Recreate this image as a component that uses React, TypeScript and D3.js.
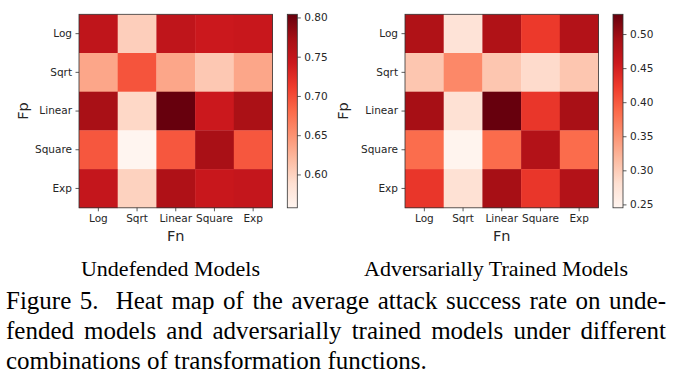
import React, { useEffect, useRef } from "react";
import * as d3 from "d3";

const fnLabels = ["Log", "Sqrt", "Linear", "Square", "Exp"];
const fpLabels = ["Log", "Sqrt", "Linear", "Square", "Exp"];

const undefendedValues = [
  [0.752, 0.603, 0.752, 0.742, 0.745],
  [0.635, 0.695, 0.635, 0.608, 0.635],
  [0.770, 0.595, 0.804, 0.742, 0.768],
  [0.693, 0.5575, 0.693, 0.770, 0.693],
  [0.748, 0.600, 0.765, 0.745, 0.748],
];
const undefendedTicks = [0.6, 0.65, 0.7, 0.75, 0.8];
const undefendedRange = [0.5575, 0.804];

const advValues = [
  [0.483, 0.275, 0.483, 0.425, 0.480],
  [0.305, 0.360, 0.305, 0.285, 0.305],
  [0.492, 0.278, 0.529, 0.428, 0.490],
  [0.384, 0.247, 0.385, 0.480, 0.385],
  [0.428, 0.278, 0.492, 0.428, 0.480],
];
const advTicks = [0.25, 0.3, 0.35, 0.4, 0.45, 0.5];
const advRange = [0.245, 0.529];

const subtitles = ["Undefended Models", "Adversarially Trained Models"];
const captionLines = [
  "Figure 5.  Heat map of the average attack success rate on unde-",
  "fended models and adversarially trained models under different",
  "combinations of transformation functions.",
];

const REDS = ["#fff5f0", "#fee0d2", "#fcbba1", "#fc9272", "#fb6a4a", "#ef3b2c", "#cb181d", "#a50f15", "#67000d"];

export default function App() {
  const ref = useRef<SVGSVGElement>(null);
  useEffect(() => {
    const svg = d3.select(ref.current);
    svg.selectAll("*").remove();
    const font = "DejaVu Sans, sans-serif";
    const textColor = "#262626";

    const panels = [
      { values: undefendedValues, ticks: undefendedTicks, range: undefendedRange, x0: 79, cbx: 287.3, fpX: 22 },
      { values: advValues, ticks: advTicks, range: advRange, x0: 405, cbx: 613, fpX: 342 },
    ];
    const top = 14.3, size = 193.5, cbw = 10;
    const defs = svg.append("defs");

    panels.forEach((p, pi) => {
      const [lo, hi] = p.range;
      const color = d3
        .scaleLinear<string>()
        .domain(REDS.map((_, i) => lo + (i / 8) * (hi - lo)))
        .range(REDS)
        .interpolate(d3.interpolateRgb)
        .clamp(true);
      const x = d3.scaleBand().domain(fnLabels).range([p.x0, p.x0 + size]);
      const y = d3.scaleBand().domain(fpLabels).range([top, top + size]);
      const g = svg.append("g");
      p.values.forEach((row, ri) => {
        row.forEach((v, ci) => {
          g.append("rect")
            .attr("x", x(fnLabels[ci])!)
            .attr("y", y(fpLabels[ri])!)
            .attr("width", x.bandwidth() + 0.3)
            .attr("height", y.bandwidth() + 0.3)
            .attr("fill", color(v));
        });
      });
      g.append("rect")
        .attr("x", p.x0)
        .attr("y", top)
        .attr("width", size)
        .attr("height", size)
        .attr("fill", "none")
        .attr("stroke", "#333")
        .attr("stroke-width", 0.8);

      const xa = svg
        .append("g")
        .attr("transform", `translate(0,${top + size})`)
        .call(d3.axisBottom(x).tickSize(3.5).tickPadding(3.5).tickSizeOuter(0));
      const ya = svg
        .append("g")
        .attr("transform", `translate(${p.x0},0)`)
        .call(d3.axisLeft(y).tickSize(3.5).tickPadding(3.5).tickSizeOuter(0));
      [xa, ya].forEach((a) => {
        a.select(".domain").remove();
        a.selectAll("line").attr("stroke", "#333").attr("stroke-width", 0.8);
        a.selectAll("text").attr("font-family", font).attr("font-size", 10.5).attr("fill", textColor);
      });

      svg
        .append("text")
        .attr("x", p.x0 + size / 2)
        .attr("y", 240.5)
        .attr("text-anchor", "middle")
        .attr("font-family", font)
        .attr("font-size", 14.5)
        .attr("fill", textColor)
        .text("Fn");
      svg
        .append("text")
        .attr("transform", `translate(${p.fpX + 5.5},${top + size / 2}) rotate(-90)`)
        .attr("text-anchor", "middle")
        .attr("font-family", font)
        .attr("font-size", 14.5)
        .attr("fill", textColor)
        .text("Fp");

      // colorbar
      const gid = `grad${pi}`;
      const grad = defs
        .append("linearGradient")
        .attr("id", gid)
        .attr("x1", 0)
        .attr("y1", 1)
        .attr("x2", 0)
        .attr("y2", 0);
      REDS.forEach((c, i) => {
        grad.append("stop").attr("offset", i / 8).attr("stop-color", c);
      });
      svg
        .append("rect")
        .attr("x", p.cbx)
        .attr("y", top)
        .attr("width", cbw)
        .attr("height", size)
        .attr("fill", `url(#${gid})`)
        .attr("stroke", "#333")
        .attr("stroke-width", 0.8);
      const cs = d3.scaleLinear().domain([lo, hi]).range([top + size, top]);
      const ca = svg
        .append("g")
        .attr("transform", `translate(${p.cbx + cbw},0)`)
        .call(
          d3
            .axisRight(cs)
            .tickValues(p.ticks)
            .tickFormat(d3.format(".2f"))
            .tickSize(3.5)
            .tickPadding(3.5)
        );
      ca.select(".domain").remove();
      ca.selectAll("line").attr("stroke", "#333").attr("stroke-width", 0.8);
      ca.selectAll("text").attr("font-family", font).attr("font-size", 10.5).attr("fill", textColor);
    });

    const serif = "Liberation Serif, Times New Roman, serif";
    const subX = [170.5, 496];
    subtitles.forEach((s, i) => {
      svg
        .append("text")
        .attr("x", subX[i])
        .attr("y", 276)
        .attr("text-anchor", "middle")
        .attr("font-family", serif)
        .attr("font-size", 22)
        .attr("fill", "#000")
        .text(s);
    });

    const baselines = [309, 338.5, 368.5];
    const left = 6, right = 666;
    captionLines.forEach((line, i) => {
      const t = svg
        .append("text")
        .attr("x", left)
        .attr("y", baselines[i])
        .attr("font-family", serif)
        .attr("font-size", 25)
        .attr("fill", "#000")
        .style("white-space", "pre")
        .text(line);
      if (i < captionLines.length - 1) {
        const w = (t.node() as SVGTextElement).getComputedTextLength();
        const spaces = (line.match(/ /g) || []).length;
        if (spaces > 0) t.attr("word-spacing", (right - left - w) / spaces);
      }
    });
  }, []);

  return (
    <svg
      ref={ref}
      width={673}
      height={383}
      style={{ position: "absolute", left: 0, top: 0, background: "#fff" }}
    />
  );
}
